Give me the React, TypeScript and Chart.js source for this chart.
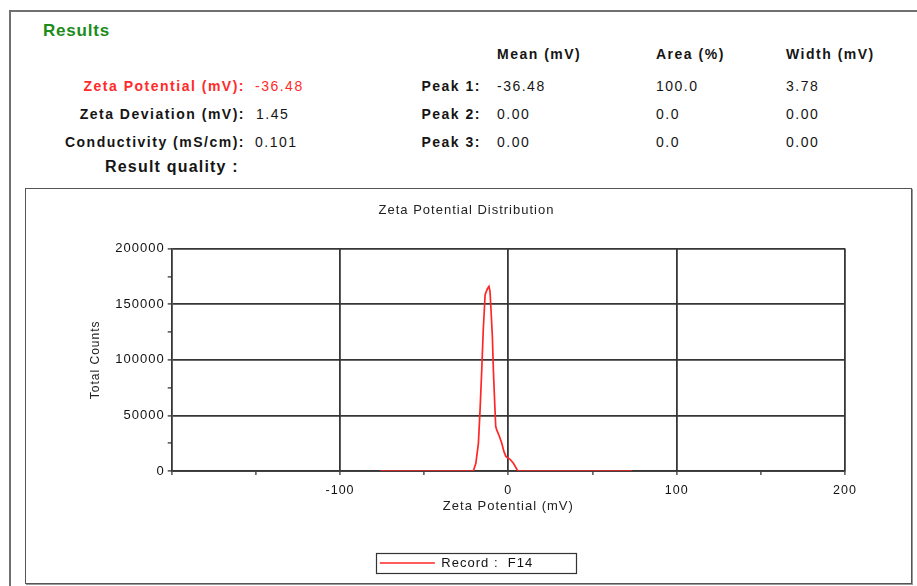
import React, { useEffect, useRef } from "react";
import { Chart, registerables } from "chart.js";

Chart.register(...registerables);

// ---- data ----
const zetaMv = [-76.2, -20.8, -19.3, -17.8, -16.8, -15.8, -14.9, -13.8, -12.5, -11.5, -10.9, -10.3, -9.5, -8.9, -8.1, -7.5, -6.9, -5.3, -3.9, -2.6, -1.4, 1.0, 3.0, 5.3, 5.9, 73.4];
const totalCounts = [0, 0, 6900, 24900, 55000, 91000, 127000, 158600, 163700, 166000, 161500, 145000, 121000, 91000, 61000, 40000, 37000, 31000, 25000, 17400, 12900, 10500, 6900, 900, 0, 0];
const xLabelValues = [-100, 0, 100, 200];
const yLabelValues = [0, 50000, 100000, 150000, 200000];
const seriesName = "Record :  F14";

const FONT = "'Liberation Sans', Arial, sans-serif";
const GRID = "#363636";
const RED = "#ff2626";

const legendFrame = {
  id: "legendFrame",
  afterDraw(chart: any) {
    const lg = chart.legend;
    if (!lg || !lg.legendHitBoxes || !lg.legendHitBoxes.length) return;
    const hb = lg.legendHitBoxes[0];
    const cy = hb.top + hb.height / 2;
    const ctx = chart.ctx;
    ctx.save();
    ctx.strokeStyle = "#333";
    ctx.lineWidth = 1.2;
    ctx.strokeRect(Math.round(hb.left - 4) + 0.5, Math.round(cy - 10) + 0.5, 200, 20);
    ctx.restore();
  },
};

const titleShift = {
  id: "titleShift",
  afterLayout(chart: any) {
    const t = chart.titleBlock;
    if (t) {
      t.left += 10;
      t.right += 10;
    }
  },
};

const letterSpacing = {
  id: "letterSpacing",
  beforeUpdate(chart: any) {
    (chart.ctx as any).letterSpacing = "1px";
  },
  beforeDraw(chart: any) {
    (chart.ctx as any).letterSpacing = "1px";
  },
};

function ZetaChart() {
  const ref = useRef<HTMLCanvasElement | null>(null);
  useEffect(() => {
    if (!ref.current) return;
    const points = zetaMv.map((x, i) => ({ x, y: totalCounts[i] }));
    const chart = new Chart(ref.current, {
      type: "line",
      data: {
        datasets: [
          {
            label: seriesName,
            data: points,
            borderColor: RED,
            backgroundColor: RED,
            borderWidth: 1.7,
            pointRadius: 0,
            tension: 0,
            fill: false,
          },
        ],
      },
      plugins: [letterSpacing, titleShift, legendFrame],
      options: {
        responsive: false,
        animation: false,
        layout: { padding: { left: 42, right: 65, top: 0, bottom: 2.5 } },
        plugins: {
          title: {
            display: true,
            text: "Zeta Potential Distribution",
            color: "#222",
            font: { family: FONT, size: 13, weight: "normal" },
            padding: { top: 13, bottom: 30 },
          },
          legend: {
            position: "bottom",
            labels: {
              usePointStyle: true,
              pointStyle: "line",
              pointStyleWidth: 55,
              padding: 10,
              color: "#111",
              font: { family: FONT, size: 13 },
            },
          },
          tooltip: { enabled: false },
        },
        scales: {
          x: {
            type: "linear",
            min: -200,
            max: 200,
            ticks: {
              stepSize: 50,
              autoSkip: false,
              maxRotation: 0,
              padding: 8,
              color: "#111",
              font: { family: FONT, size: 12.5 },
              callback: (v: any) => (xLabelValues.includes(Number(v)) ? String(v) : ""),
            },
            grid: {
              color: (c: any) => (c.tick && xLabelValues.includes(c.tick.value) ? GRID : "rgba(0,0,0,0)"),
              lineWidth: 1.8,
              tickColor: GRID,
              tickWidth: 1.3,
              tickLength: 4,
            },
            border: { color: GRID, width: 1.8 },
            title: {
              display: true,
              text: "Zeta Potential (mV)",
              color: "#222",
              font: { family: FONT, size: 13 },
              padding: { top: 0, bottom: 32.7 },
            },
            afterFit: (s: any) => {
              s.height = 75.5;
            },
          },
          y: {
            type: "linear",
            min: 0,
            max: 200000,
            ticks: {
              stepSize: 25000,
              autoSkip: false,
              padding: 3,
              color: "#111",
              font: { family: FONT, size: 13 },
              callback: (v: any) => (yLabelValues.includes(Number(v)) ? String(v) : ""),
            },
            grid: {
              color: (c: any) => (c.tick && yLabelValues.includes(c.tick.value) ? GRID : "rgba(0,0,0,0)"),
              lineWidth: 1.8,
              tickColor: GRID,
              tickWidth: 1.3,
              tickLength: 4,
            },
            border: { color: GRID, width: 1.8 },
            title: {
              display: true,
              text: "Total Counts",
              color: "#222",
              font: { family: FONT, size: 12 },
              padding: { top: 20, bottom: 0 },
            },
            afterFit: (s: any) => {
              s.width = 103.7;
            },
          },
        },
      } as any,
    });
    return () => chart.destroy();
  }, []);
  return (
    <canvas
      ref={ref}
      width={884}
      height={392}
      style={{ position: "absolute", left: 26, top: 190, width: 884, height: 392 }}
    />
  );
}

type TProps = { x: number; cy: number; size: number; bold?: boolean; color?: string; right?: boolean; ls?: number; children: React.ReactNode };
function T({ x, cy, size, bold, color, right, ls, children }: TProps) {
  const style: React.CSSProperties = {
    position: "absolute",
    top: cy - 10,
    lineHeight: "20px",
    height: 20,
    fontFamily: FONT,
    fontSize: size,
    fontWeight: bold ? "bold" : "normal",
    color: color || "#151515",
    letterSpacing: (ls ?? 1.5) + "px",
    whiteSpace: "nowrap",
  };
  if (right) {
    style.right = 917 - x;
    style.textAlign = "right";
  } else {
    style.left = x;
  }
  return <div style={style}>{children}</div>;
}

export default function App() {
  return (
    <div
      style={{
        position: "fixed",
        left: 0,
        top: 0,
        width: 917,
        height: 586,
        overflow: "hidden",
        background: "#fff",
      }}
    >
      {/* outer frame */}
      <div
        style={{
          position: "absolute",
          left: 9,
          top: 10,
          width: 960,
          height: 640,
          borderTop: "2px solid #707070",
          borderLeft: "2px solid #707070",
        }}
      />
      {/* inner chart frame */}
      <div
        style={{
          position: "absolute",
          left: 25,
          top: 188,
          width: 885,
          height: 394,
          border: "1px solid #555",
          boxShadow: "1px 1px 0 #999",
        }}
      />

      <T x={43} cy={30.5} size={17} bold color="#1d8c1d" ls={0.8}>Results</T>

      <T x={245} cy={85.5} size={14} bold color="#ff2a2a" right>Zeta Potential (mV):</T>
      <T x={255} cy={85.5} size={14} color="#ff2a2a">-36.48</T>
      <T x={245} cy={114} size={14} bold right>Zeta Deviation (mV):</T>
      <T x={256} cy={114} size={14}>1.45</T>
      <T x={245} cy={142} size={14} bold right>Conductivity (mS/cm):</T>
      <T x={255} cy={142} size={14}>0.101</T>
      <T x={105} cy={167} size={16} bold ls={1.2}>Result quality :</T>

      <T x={497} cy={54} size={14} bold>Mean (mV)</T>
      <T x={656} cy={54} size={14} bold>Area (%)</T>
      <T x={786} cy={54} size={14} bold>Width (mV)</T>

      <T x={481} cy={86} size={14} bold right>Peak 1:</T>
      <T x={497} cy={86} size={14}>-36.48</T>
      <T x={656} cy={86} size={14}>100.0</T>
      <T x={786} cy={86} size={14}>3.78</T>

      <T x={481} cy={113.5} size={14} bold right>Peak 2:</T>
      <T x={497} cy={113.5} size={14}>0.00</T>
      <T x={656} cy={113.5} size={14}>0.0</T>
      <T x={786} cy={113.5} size={14}>0.00</T>

      <T x={481} cy={142} size={14} bold right>Peak 3:</T>
      <T x={497} cy={142} size={14}>0.00</T>
      <T x={656} cy={142} size={14}>0.0</T>
      <T x={786} cy={142} size={14}>0.00</T>

      <ZetaChart />
    </div>
  );
}
